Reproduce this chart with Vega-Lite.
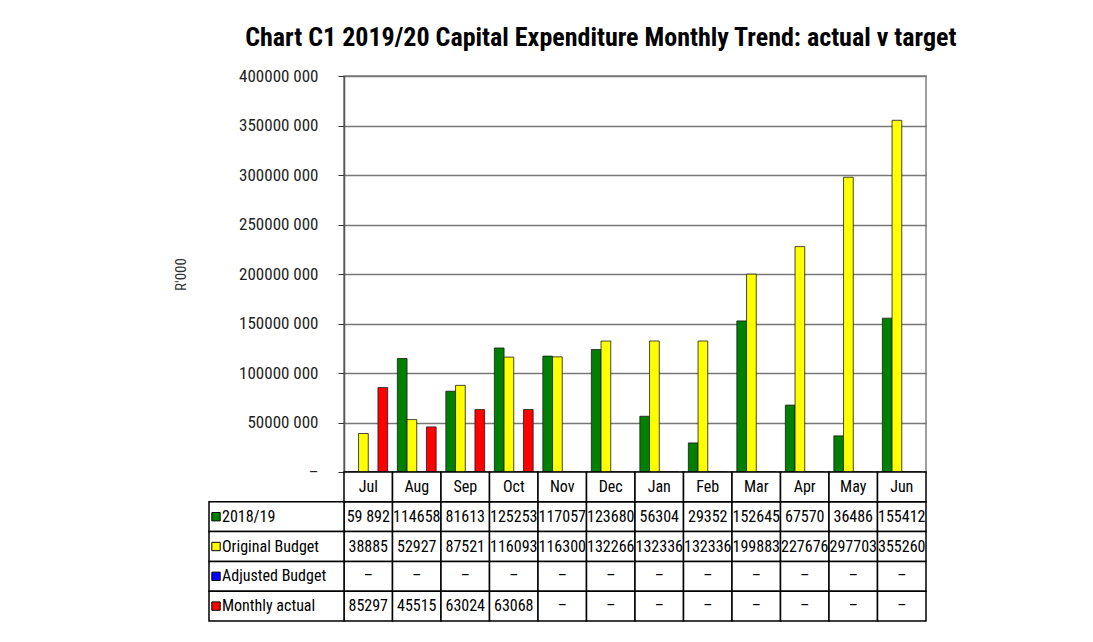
{
  "$schema": "https://vega.github.io/schema/vega-lite/v6.json",
  "background": "white",
  "padding": {"left": 172, "top": 25, "right": 5, "bottom": 5},
  "title": {
    "text": "Chart C1 2019/20 Capital Expenditure Monthly Trend: actual v target",
    "font": "Roboto Condensed, Liberation Sans",
    "fontSize": 26,
    "fontWeight": "bold",
    "color": "#000000",
    "anchor": "middle",
    "offset": 15,
    "dx": 51
  },
  "datasets": {
    "capex": [
      {"month": "Jul", "series": "2018/19", "amount": 59892, "label": "59 892"},
      {"month": "Aug", "series": "2018/19", "amount": 114658000, "label": "114658"},
      {"month": "Sep", "series": "2018/19", "amount": 81613000, "label": "81613"},
      {"month": "Oct", "series": "2018/19", "amount": 125253000, "label": "125253"},
      {"month": "Nov", "series": "2018/19", "amount": 117057000, "label": "117057"},
      {"month": "Dec", "series": "2018/19", "amount": 123680000, "label": "123680"},
      {"month": "Jan", "series": "2018/19", "amount": 56304000, "label": "56304"},
      {"month": "Feb", "series": "2018/19", "amount": 29352000, "label": "29352"},
      {"month": "Mar", "series": "2018/19", "amount": 152645000, "label": "152645"},
      {"month": "Apr", "series": "2018/19", "amount": 67570000, "label": "67570"},
      {"month": "May", "series": "2018/19", "amount": 36486000, "label": "36486"},
      {"month": "Jun", "series": "2018/19", "amount": 155412000, "label": "155412"},
      {"month": "Jul", "series": "Original Budget", "amount": 38885000, "label": "38885"},
      {"month": "Aug", "series": "Original Budget", "amount": 52927000, "label": "52927"},
      {"month": "Sep", "series": "Original Budget", "amount": 87521000, "label": "87521"},
      {"month": "Oct", "series": "Original Budget", "amount": 116093000, "label": "116093"},
      {"month": "Nov", "series": "Original Budget", "amount": 116300000, "label": "116300"},
      {"month": "Dec", "series": "Original Budget", "amount": 132266000, "label": "132266"},
      {"month": "Jan", "series": "Original Budget", "amount": 132336000, "label": "132336"},
      {"month": "Feb", "series": "Original Budget", "amount": 132336000, "label": "132336"},
      {"month": "Mar", "series": "Original Budget", "amount": 199883000, "label": "199883"},
      {"month": "Apr", "series": "Original Budget", "amount": 227676000, "label": "227676"},
      {"month": "May", "series": "Original Budget", "amount": 297703000, "label": "297703"},
      {"month": "Jun", "series": "Original Budget", "amount": 355260000, "label": "355260"},
      {"month": "Jul", "series": "Adjusted Budget", "amount": 0, "label": "–"},
      {"month": "Aug", "series": "Adjusted Budget", "amount": 0, "label": "–"},
      {"month": "Sep", "series": "Adjusted Budget", "amount": 0, "label": "–"},
      {"month": "Oct", "series": "Adjusted Budget", "amount": 0, "label": "–"},
      {"month": "Nov", "series": "Adjusted Budget", "amount": 0, "label": "–"},
      {"month": "Dec", "series": "Adjusted Budget", "amount": 0, "label": "–"},
      {"month": "Jan", "series": "Adjusted Budget", "amount": 0, "label": "–"},
      {"month": "Feb", "series": "Adjusted Budget", "amount": 0, "label": "–"},
      {"month": "Mar", "series": "Adjusted Budget", "amount": 0, "label": "–"},
      {"month": "Apr", "series": "Adjusted Budget", "amount": 0, "label": "–"},
      {"month": "May", "series": "Adjusted Budget", "amount": 0, "label": "–"},
      {"month": "Jun", "series": "Adjusted Budget", "amount": 0, "label": "–"},
      {"month": "Jul", "series": "Monthly actual", "amount": 85297000, "label": "85297"},
      {"month": "Aug", "series": "Monthly actual", "amount": 45515000, "label": "45515"},
      {"month": "Sep", "series": "Monthly actual", "amount": 63024000, "label": "63024"},
      {"month": "Oct", "series": "Monthly actual", "amount": 63068000, "label": "63068"},
      {"month": "Nov", "series": "Monthly actual", "amount": 0, "label": "–"},
      {"month": "Dec", "series": "Monthly actual", "amount": 0, "label": "–"},
      {"month": "Jan", "series": "Monthly actual", "amount": 0, "label": "–"},
      {"month": "Feb", "series": "Monthly actual", "amount": 0, "label": "–"},
      {"month": "Mar", "series": "Monthly actual", "amount": 0, "label": "–"},
      {"month": "Apr", "series": "Monthly actual", "amount": 0, "label": "–"},
      {"month": "May", "series": "Monthly actual", "amount": 0, "label": "–"},
      {"month": "Jun", "series": "Monthly actual", "amount": 0, "label": "–"}
    ],
    "months": [
      {"month": "Jul"}, {"month": "Aug"}, {"month": "Sep"}, {"month": "Oct"},
      {"month": "Nov"}, {"month": "Dec"}, {"month": "Jan"}, {"month": "Feb"},
      {"month": "Mar"}, {"month": "Apr"}, {"month": "May"}, {"month": "Jun"}
    ],
    "series": [
      {"series": "2018/19"},
      {"series": "Original Budget"},
      {"series": "Adjusted Budget"},
      {"series": "Monthly actual"}
    ]
  },
  "spacing": 0,
  "bounds": "flush",
  "vconcat": [
    {
      "width": 582,
      "height": 396,
      "view": {"stroke": "#808080", "strokeWidth": 1.5},
      "data": {"name": "capex"},
      "mark": {"type": "bar", "stroke": "#1a1a1a", "strokeWidth": 0.8},
      "encoding": {
        "x": {
          "field": "month", "type": "nominal",
          "scale": {"domain": ["Jul","Aug","Sep","Oct","Nov","Dec","Jan","Feb","Mar","Apr","May","Jun"], "paddingInner": 0.2, "paddingOuter": 0.1},
          "axis": null
        },
        "xOffset": {
          "field": "series", "type": "nominal",
          "scale": {"domain": ["2018/19", "Original Budget", "Adjusted Budget", "Monthly actual"], "paddingInner": 0}
        },
        "y": {
          "field": "amount", "type": "quantitative",
          "scale": {"domain": [0, 400000000], "nice": false},
          "axis": {
            "title": "R'000",
            "titleFont": "Roboto Condensed, Liberation Sans",
            "titleFontSize": 15,
            "titleFontWeight": "normal",
            "titleColor": "#333333",
            "titlePadding": 50,
            "values": [0, 50000000, 100000000, 150000000, 200000000, 250000000, 300000000, 350000000, 400000000],
            "labelExpr": "datum.value == 0 ? '–' : format(datum.value / 1000, 'd') + ' 000'",
            "labelFont": "Roboto Condensed, Liberation Sans",
            "labelFontSize": 17,
            "labelColor": "#222222",
            "labelPadding": 20,
            "tickSize": 6,
            "tickColor": "#333333",
            "domainColor": "#555555",
            "domainWidth": 1.5,
            "gridColor": "#777777",
            "gridWidth": 1.5
          }
        },
        "color": {
          "field": "series", "type": "nominal",
          "scale": {"domain": ["2018/19", "Original Budget", "Adjusted Budget", "Monthly actual"], "range": ["#008000", "#FFFF00", "#0000FF", "#FF0000"]},
          "legend": null
        }
      }
    },
    {
      "width": 582,
      "height": 149,
      "layer": [
        {
          "data": {"name": "capex"},
          "mark": {"type": "rect", "fill": "white", "stroke": "#000000", "strokeWidth": 1.5},
          "encoding": {
            "x": {"field": "month", "type": "nominal", "scale": {"domain": ["Jul","Aug","Sep","Oct","Nov","Dec","Jan","Feb","Mar","Apr","May","Jun"], "paddingInner": 0, "paddingOuter": 0}, "axis": null},
            "y": {"field": "series", "type": "nominal", "scale": {"domain": ["Month", "2018/19", "Original Budget", "Adjusted Budget", "Monthly actual"], "paddingInner": 0, "paddingOuter": 0}, "axis": null}
          }
        },
        {
          "data": {"name": "capex"},
          "mark": {"type": "text", "font": "Roboto Condensed, Liberation Sans", "fontSize": 16, "color": "#000000"},
          "encoding": {
            "x": {"field": "month", "type": "nominal"},
            "y": {"field": "series", "type": "nominal"},
            "text": {"field": "label"}
          }
        },
        {
          "data": {"name": "months"},
          "mark": {"type": "rect", "fill": "white", "stroke": "#000000", "strokeWidth": 1.5},
          "encoding": {
            "x": {"field": "month", "type": "nominal"},
            "y": {"datum": "Month", "type": "nominal"}
          }
        },
        {
          "data": {"name": "months"},
          "mark": {"type": "text", "font": "Roboto Condensed, Liberation Sans", "fontSize": 16, "color": "#000000"},
          "encoding": {
            "x": {"field": "month", "type": "nominal"},
            "y": {"datum": "Month", "type": "nominal"},
            "text": {"field": "month"}
          }
        },
        {
          "data": {"name": "series"},
          "mark": {"type": "rect", "fill": "white", "stroke": "#000000", "strokeWidth": 1.5},
          "encoding": {
            "x": {"value": -135},
            "x2": {"value": 0},
            "y": {"field": "series", "type": "nominal"}
          }
        },
        {
          "data": {"name": "series"},
          "mark": {"type": "square", "size": 70, "opacity": 1, "stroke": "#000000", "strokeWidth": 1},
          "encoding": {
            "x": {"value": -128},
            "y": {"field": "series", "type": "nominal"},
            "color": {
              "field": "series", "type": "nominal",
              "scale": {"domain": ["2018/19", "Original Budget", "Adjusted Budget", "Monthly actual"], "range": ["#008000", "#FFFF00", "#0000FF", "#FF0000"]},
              "legend": null
            }
          }
        },
        {
          "data": {"name": "series"},
          "mark": {"type": "text", "align": "left", "font": "Roboto Condensed, Liberation Sans", "fontSize": 16, "color": "#000000"},
          "encoding": {
            "x": {"value": -122},
            "y": {"field": "series", "type": "nominal"},
            "text": {"field": "series"}
          }
        }
      ]
    }
  ],
  "config": {
    "view": {"stroke": null},
    "font": "Roboto Condensed, Liberation Sans"
  }
}
